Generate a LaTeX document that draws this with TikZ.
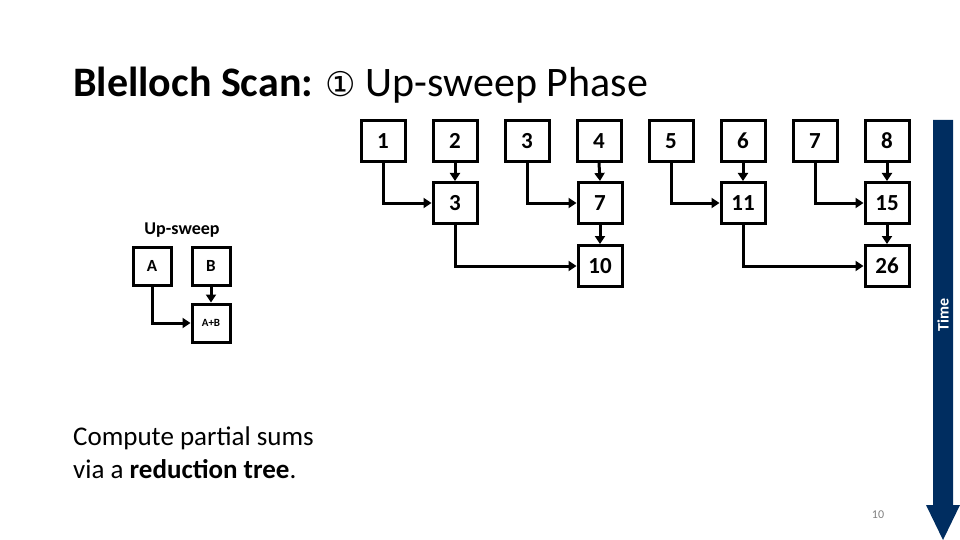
\documentclass[tikz,border=0pt]{standalone}
\usepackage{fontspec}
\setmainfont{Carlito}
\newfontfamily\symfont{DejaVu Sans}
\usetikzlibrary{positioning,arrows.meta}
\definecolor{timeblue}{RGB}{0,45,96}
\tikzset{
	cell/.style={draw, line width=3pt, minimum width=44pt, minimum height=41pt, inner sep=0pt, font=\fontsize{23}{25}\selectfont\bfseries},
	small/.style={cell, minimum width=38pt, minimum height=38pt, font=\fontsize{17}{19}\selectfont\bfseries},
	link/.style={line width=3pt, -{Triangle[length=8pt,width=10pt]}}
}
% left input goes down and across, right input goes straight down
\newcommand{\joincells}[3]{
	\draw[link] (#1.south) |- (#3.west);
	\draw[link] (#2.south) -- (#3.north);
}
\begin{document}
\begin{tikzpicture}[x=1pt,y=-1pt]
	\useasboundingbox (0,0) rectangle (960,540);
	\node[anchor=base west, font=\fontsize{42}{44}\selectfont, inner sep=0pt] (title) at (73,97) {\textbf{Blelloch Scan:} {\symfont\fontsize{34}{36}\selectfont ①} Up-sweep Phase};
	
	\foreach \v [count=\i] in {1,...,8}
		\node[cell] (top-\i) at (383+72*\i-72,141) {\v};
	
	\node[cell] (mid-2) at (455,203) {3};
	\node[cell] (mid-4) at (600,203) {7};
	\node[cell] (mid-6) at (743,203) {11};
	\node[cell] (mid-8) at (887,203) {15};
	\node[cell] (bot-4) at (600,266) {10};
	\node[cell] (bot-8) at (887,266) {26};
	
	\joincells{top-1}{top-2}{mid-2}
	\joincells{top-3}{top-4}{mid-4}
	\joincells{top-5}{top-6}{mid-6}
	\joincells{top-7}{top-8}{mid-8}
	\joincells{mid-2}{mid-4}{bot-4}
	\joincells{mid-6}{mid-8}{bot-8}
	
	% legend
	\node[font=\fontsize{18}{20}\selectfont\bfseries] (legend) at (182,230) {Up-sweep};
	\node[small] (leg-a) at (152,266) {A};
	\node[small] (leg-b) at (211,266) {B};
	\node[small, font=\fontsize{11}{13}\selectfont\bfseries] (leg-ab) at (211,323) {A+B};
	\joincells{leg-a}{leg-b}{leg-ab}
	
	\node[anchor=north west, align=left, font=\fontsize{27}{33}\selectfont, inner sep=0pt] (note) at (73,427) {Compute partial sums\\via a \textbf{reduction tree}.};
	\node[font=\fontsize{12}{14}\selectfont, text=gray] (page) at (878,515) {10};
	
	% time arrow
	\fill[timeblue] (933,120) -- (953,120) -- (953,505) -- (960,505) -- (943,540) -- (926,505) -- (933,505) -- cycle;
	\node[rotate=90, text=white, font=\fontsize{16}{18}\selectfont\bfseries] (time) at (943,315) {Time};
\end{tikzpicture}
\end{document}
